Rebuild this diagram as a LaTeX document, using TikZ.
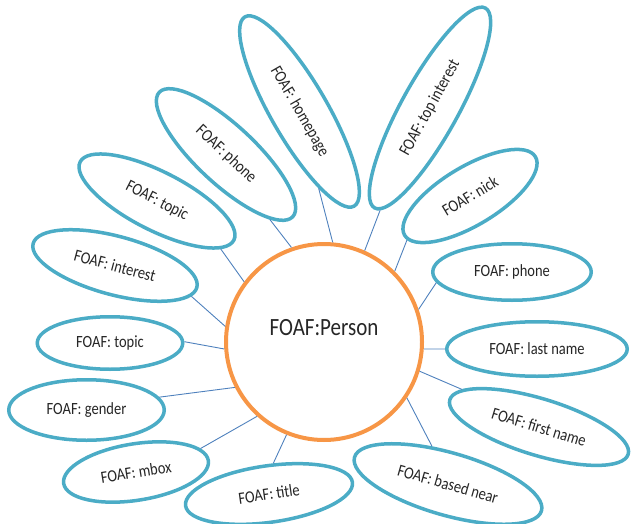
\documentclass[tikz,border=0pt]{standalone}
\usepackage{fontspec}
\setmainfont{Carlito}
\usetikzlibrary{shapes.geometric}
\definecolor{petal}{RGB}{75,172,198}
\definecolor{hubc}{RGB}{247,150,70}
\definecolor{linkc}{RGB}{79,129,189}
\definecolor{txtc}{RGB}{38,38,38}
\newcommand\vstr[1]{\scalebox{1}[1.18]{#1}}
\begin{document}
\begin{tikzpicture}[x=1pt,y=-1pt,
  petalnode/.style n args={2}{ellipse, draw=petal, line width=3.5pt, fill=white,
     inner sep=0pt, minimum width={2*#1-3.5}, minimum height={2*#2-3.5},
     text=txtc, font=\fontsize{14.5}{17}\selectfont},
  hub/.style={circle, draw=hubc, line width=4pt, fill=white, minimum size=196pt, inner sep=0pt},
  hubtext/.style={text=txtc, font=\fontsize{21}{24}\selectfont, inner sep=0pt},
  link/.style={draw=linkc, line width=0.9pt}]
\useasboundingbox (0,0) rectangle (631,524);

\node[hub] (hub) at (324,342) {};
\node[hubtext] (hublabel) at (324,328) {\vstr{FOAF:Person}};

\node[petalnode={111}{30}, rotate=-60] (home) at (299.5,111.5) {\vstr{FOAF: homepage}};
\node[petalnode={116}{30}, rotate=61] (topint) at (430,108) {\vstr{FOAF: top interest}};
\node[petalnode={78}{31}, rotate=31] (nick) at (470,196) {\vstr{FOAF: nick}};
\node[petalnode={81}{30}] (phoner) at (512,272) {\vstr{FOAF: phone}};
\node[petalnode={92}{29}] (lastn) at (537,349) {\vstr{FOAF: last name}};
\node[petalnode={95}{30}, rotate=-17] (firstn) at (539,427) {\vstr{FOAF: first name}};
\node[petalnode={99}{33}, rotate=-16] (based) at (448,484) {\vstr{FOAF: based near}};
\node[petalnode={86}{30}, rotate=8] (title) at (269,494) {\vstr{FOAF: title}};
\node[petalnode={75}{30}, rotate=9] (mbox) at (136,472) {\vstr{FOAF: mbox}};
\node[petalnode={79.5}{32}] (gender) at (86.5,410) {\vstr{FOAF: gender}};
\node[petalnode={74.5}{28}] (topicl) at (110,343) {\vstr{FOAF: topic}};
\node[petalnode={86.5}{31}, rotate=-15] (interest) at (115,265.5) {\vstr{FOAF: interest}};
\node[petalnode={88}{31}, rotate=-27] (topicul) at (157,201) {\vstr{FOAF: topic}};
\node[petalnode={93}{31}, rotate=-43] (phoneul) at (226,154.5) {\vstr{FOAF: phone}};

\draw[link] (hub.85) -- (home.-16);
\draw[link] (hub.66) -- (topint.183);
\draw[link] (hub.45) -- (nick.184);
\draw[link] (hub.19) -- (phoner.188);
\draw[link] (hub.-4) -- (lastn.180);
\draw[link] (hub.-17) -- (firstn.171);
\draw[link] (hub.-34) -- (based.129);
\draw[link] (hub.248) -- (title.74);
\draw[link] (hub.228) -- (mbox.11);
\draw[link] (hub.207) -- (gender.10);
\draw[link] (hub.184) -- (topicl.1);
\draw[link] (hub.171) -- (interest.-7);
\draw[link] (hub.143) -- (topicul.-10);
\draw[link] (hub.109) -- (phoneul.-13);
\end{tikzpicture}
\end{document}
